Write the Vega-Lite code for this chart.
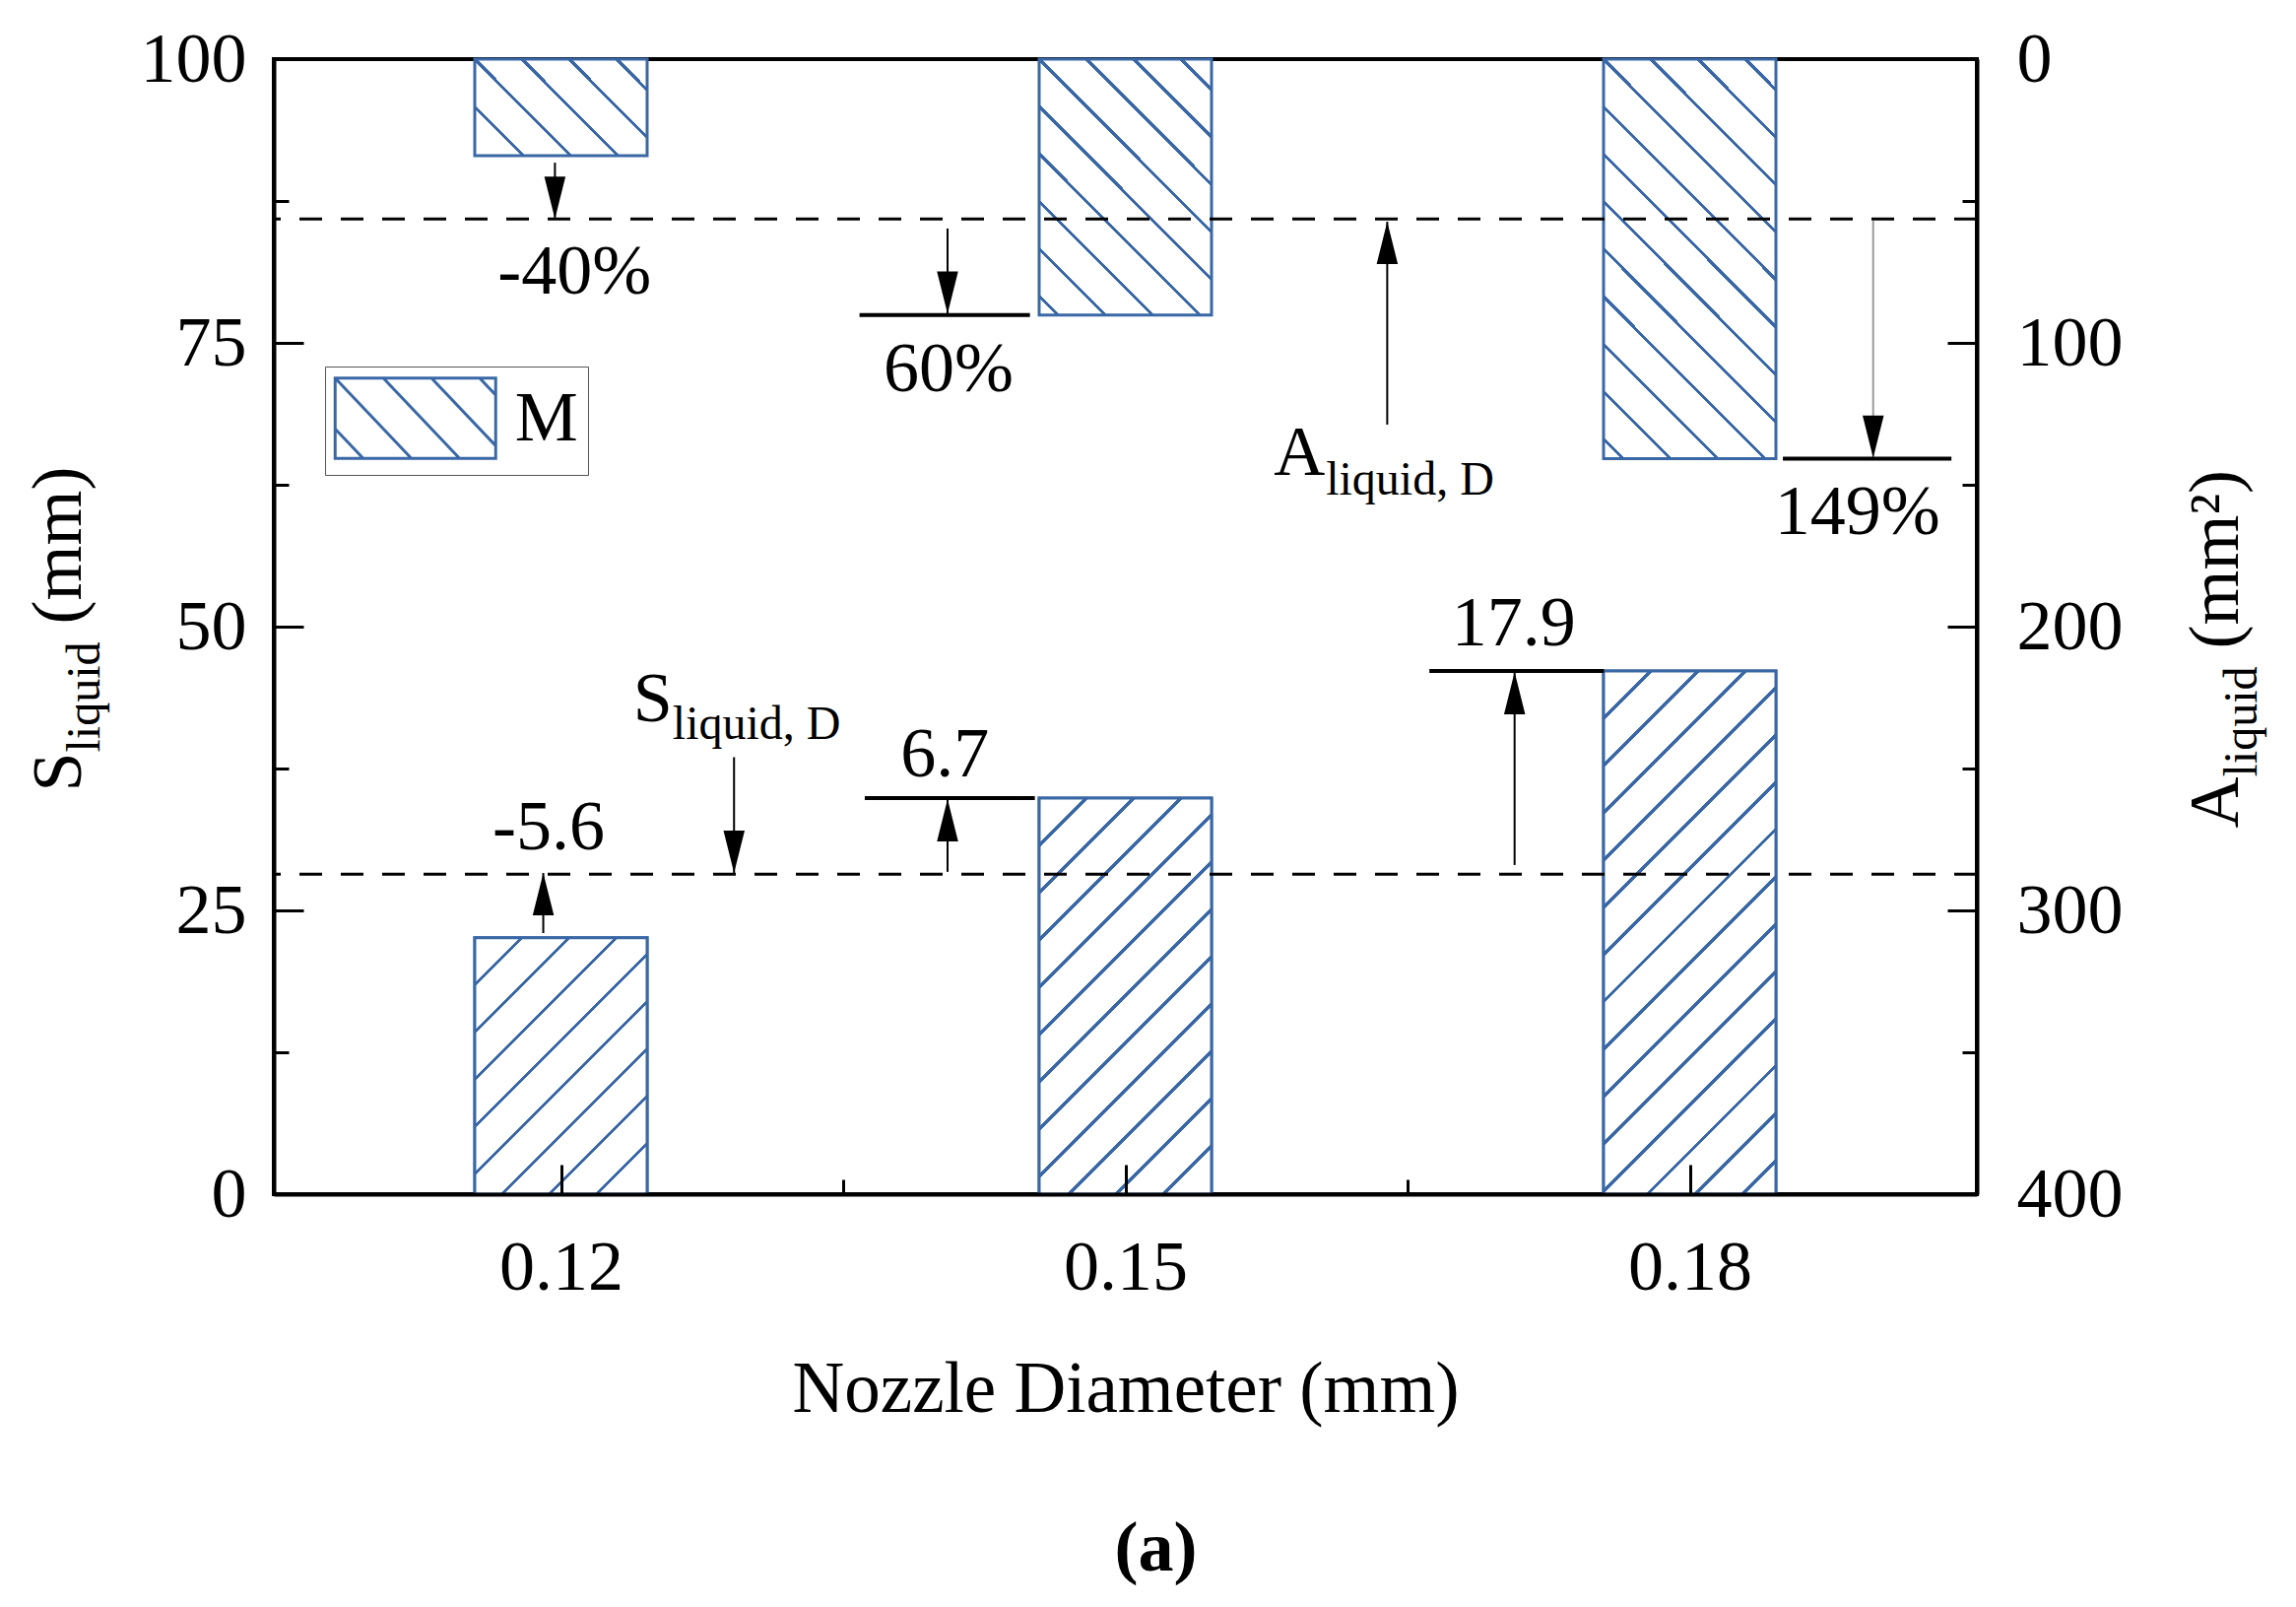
{
  "$schema": "https://vega.github.io/schema/vega-lite/v6.json",
  "width": 1729,
  "height": 1152,
  "autosize": {"type": "none"},
  "padding": {"left": 278, "top": 60, "right": 324, "bottom": 419},
  "background": "white",
  "title": {"text": "(a)", "orient": "bottom", "anchor": "middle", "fontSize": 72, "fontWeight": "bold", "font": "Liberation Serif", "color": "black", "offset": 90, "dx": 31},
  "config": {
    "font": "Liberation Serif",
    "view": {"stroke": "black", "strokeWidth": 4},
    "axis": {"grid": false, "labelFont": "Liberation Serif", "titleFont": "Liberation Serif", "labelFontSize": 72, "titleFontSize": 72, "titleFontWeight": "normal", "labelColor": "black", "titleColor": "black", "tickColor": "black", "domainColor": "black", "domainWidth": 4, "tickWidth": 3, "labelFlush": false, "labelOverlap": false, "labelBound": false},
    "text": {"font": "Liberation Serif", "fontSize": 72, "color": "black"}
  },
  "datasets": {
    "bars": [
      {"d": 0.12, "S": 22.6, "A": 34.0},
      {"d": 0.15, "S": 34.9, "A": 90.2},
      {"d": 0.18, "S": 46.1, "A": 140.8}
    ],
    "refs": [{"S_D": 28.2, "A_D": 56.3}],
    "arrowsS": [
      {"x": 0.11906, "from": 23.0, "to": 28.3, "dir": "up"},
      {"x": 0.1292, "from": 38.5, "to": 28.3, "dir": "down"},
      {"x": 0.14055, "from": 28.4, "to": 34.8, "dir": "up"},
      {"x": 0.17069, "from": 29.0, "to": 46.0, "dir": "up"}
    ],
    "arrowsA": [
      {"x": 0.11968, "from": 36.5, "to": 56.3, "dir": "down"},
      {"x": 0.14055, "from": 59.7, "to": 89.8, "dir": "down"},
      {"x": 0.16392, "from": 128.8, "to": 57.3, "dir": "up"},
      {"x": 0.18975, "from": 57.0, "to": 140.5, "dir": "down"}
    ],
    "levelsS": [
      {"x": 0.13615, "x2": 0.14519, "y": 34.9},
      {"x": 0.16616, "x2": 0.17544, "y": 46.1}
    ],
    "levelsA": [
      {"x": 0.13587, "x2": 0.14493, "y": 90.2},
      {"x": 0.18495, "x2": 0.19391, "y": 140.8}
    ],
    "labelsS": [
      {"x": 0.11934, "y": 32.3, "text": "-5.6"},
      {"x": 0.1404, "y": 38.7, "text": "6.7"},
      {"x": 0.17064, "y": 50.3, "text": "17.9"}
    ],
    "labelsA": [
      {"x": 0.12072, "y": 75.0, "text": "-40%"},
      {"x": 0.1406, "y": 109.4, "text": "60%"},
      {"x": 0.18891, "y": 159.7, "text": "149%"}
    ],
    "namesS": [{"x": 0.12384, "y": 41.67, "main": "S", "sub": "liquid, D"}],
    "namesA": [{"x": 0.15789, "y": 146.5, "main": "A", "sub": "liquid, D"}]
  },
  "layer": [
    {
      "layer": [
        {
          "data": {"name": "bars"},
          "mark": {"type": "bar", "orient": "vertical", "size": 175, "strokeWidth": 3, "fill": "white"},
          "encoding": {
            "x": {"field": "d", "type": "quantitative", "scale": {"domain": [0.105, 0.195], "nice": false, "zero": false}, "axis": null},
            "y": {"field": "S", "type": "quantitative", "scale": {"domain": [0, 100], "nice": false}, "axis": null},
            "stroke": {"datum": "M", "type": "nominal", "scale": {"range": ["#3a68a6"]},
              "legend": {"orient": "none", "legendX": 52, "legendY": 312, "title": null, "padding": 10, "strokeColor": "#555555", "fillColor": "white", "cornerRadius": 0,
                "symbolType": "M-2,-1H2V1H-2Z M-2,-1L-0.1,1 M-0.8,-1L1.1,1 M0.4,-1L2,0.684 M1.6,-1L2,-0.579 M-2,0.264L-1.3,1",
                "symbolSize": 6642, "symbolStrokeWidth": 3, "symbolOffset": 39.25, "symbolFillColor": "white", "symbolStrokeColor": "#3a68a6",
                "labelFontSize": 72, "labelFont": "Liberation Serif", "labelColor": "black", "labelOffset": 58.5}}
          }
        },
        {
          "data": {"name": "bars"},
          "mark": {"type": "bar", "orient": "vertical", "size": 175, "strokeWidth": 3, "stroke": "#3a68a6"},
          "encoding": {
            "x": {"field": "d", "type": "quantitative", "scale": {"domain": [0.105, 0.195], "nice": false, "zero": false},
              "axis": {"orient": "bottom", "zindex": 2, "values": [0.12, 0.15, 0.18], "format": ".2f", "tickSize": -30, "labelPadding": 69, "title": "Nozzle Diameter (mm)", "titleFontSize": 73, "titleBaseline": "alphabetic", "titleY": 220}},
            "y": {"field": "S", "type": "quantitative", "scale": {"domain": [0, 100], "nice": false},
              "axis": {"orient": "left", "zindex": 2, "values": [0, 25, 50, 75, 100], "format": "d", "tickSize": -30, "labelPadding": 58, "title": "S", "titleAngle": -90, "titleAlign": "left", "titleBaseline": "alphabetic", "titleX": -197, "titleY": 743}},
            "fill": {
              "condition": [
                {"test": "datum.d < 0.13", "value": {"gradient": "linear", "x1": 0, "y1": 0, "x2": 0.7741, "y2": 1.1518, "stops": [
                  {"offset": 0, "color": "#ffffff"},
                  {"offset": 0.1054, "color": "#ffffff"}, {"offset": 0.1054, "color": "#3a68a6"}, {"offset": 0.1151, "color": "#3a68a6"}, {"offset": 0.1151, "color": "#ffffff"},
                  {"offset": 0.2156, "color": "#ffffff"}, {"offset": 0.2156, "color": "#3a68a6"}, {"offset": 0.2254, "color": "#3a68a6"}, {"offset": 0.2254, "color": "#ffffff"},
                  {"offset": 0.3259, "color": "#ffffff"}, {"offset": 0.3259, "color": "#3a68a6"}, {"offset": 0.3356, "color": "#3a68a6"}, {"offset": 0.3356, "color": "#ffffff"},
                  {"offset": 0.4361, "color": "#ffffff"}, {"offset": 0.4361, "color": "#3a68a6"}, {"offset": 0.4458, "color": "#3a68a6"}, {"offset": 0.4458, "color": "#ffffff"},
                  {"offset": 0.5463, "color": "#ffffff"}, {"offset": 0.5463, "color": "#3a68a6"}, {"offset": 0.5561, "color": "#3a68a6"}, {"offset": 0.5561, "color": "#ffffff"},
                  {"offset": 0.6566, "color": "#ffffff"}, {"offset": 0.6566, "color": "#3a68a6"}, {"offset": 0.6663, "color": "#3a68a6"}, {"offset": 0.6663, "color": "#ffffff"},
                  {"offset": 0.7668, "color": "#ffffff"}, {"offset": 0.7668, "color": "#3a68a6"}, {"offset": 0.7766, "color": "#3a68a6"}, {"offset": 0.7766, "color": "#ffffff"},
                  {"offset": 0.8771, "color": "#ffffff"}, {"offset": 0.8771, "color": "#3a68a6"}, {"offset": 0.8868, "color": "#3a68a6"}, {"offset": 0.8868, "color": "#ffffff"},
                  {"offset": 1, "color": "#ffffff"}]}},
                {"test": "datum.d < 0.16", "value": {"gradient": "linear", "x1": 0, "y1": 0, "x2": 0.5253, "y2": 1.2067, "stops": [
                  {"offset": 0, "color": "#ffffff"},
                  {"offset": 0.0795, "color": "#ffffff"}, {"offset": 0.0795, "color": "#3a68a6"}, {"offset": 0.0869, "color": "#3a68a6"}, {"offset": 0.0869, "color": "#ffffff"},
                  {"offset": 0.1627, "color": "#ffffff"}, {"offset": 0.1627, "color": "#3a68a6"}, {"offset": 0.1701, "color": "#3a68a6"}, {"offset": 0.1701, "color": "#ffffff"},
                  {"offset": 0.2459, "color": "#ffffff"}, {"offset": 0.2459, "color": "#3a68a6"}, {"offset": 0.2532, "color": "#3a68a6"}, {"offset": 0.2532, "color": "#ffffff"},
                  {"offset": 0.3291, "color": "#ffffff"}, {"offset": 0.3291, "color": "#3a68a6"}, {"offset": 0.3364, "color": "#3a68a6"}, {"offset": 0.3364, "color": "#ffffff"},
                  {"offset": 0.4123, "color": "#ffffff"}, {"offset": 0.4123, "color": "#3a68a6"}, {"offset": 0.4196, "color": "#3a68a6"}, {"offset": 0.4196, "color": "#ffffff"},
                  {"offset": 0.4955, "color": "#ffffff"}, {"offset": 0.4955, "color": "#3a68a6"}, {"offset": 0.5028, "color": "#3a68a6"}, {"offset": 0.5028, "color": "#ffffff"},
                  {"offset": 0.5786, "color": "#ffffff"}, {"offset": 0.5786, "color": "#3a68a6"}, {"offset": 0.586, "color": "#3a68a6"}, {"offset": 0.586, "color": "#ffffff"},
                  {"offset": 0.6618, "color": "#ffffff"}, {"offset": 0.6618, "color": "#3a68a6"}, {"offset": 0.6692, "color": "#3a68a6"}, {"offset": 0.6692, "color": "#ffffff"},
                  {"offset": 0.745, "color": "#ffffff"}, {"offset": 0.745, "color": "#3a68a6"}, {"offset": 0.7524, "color": "#3a68a6"}, {"offset": 0.7524, "color": "#ffffff"},
                  {"offset": 0.8282, "color": "#ffffff"}, {"offset": 0.8282, "color": "#3a68a6"}, {"offset": 0.8356, "color": "#3a68a6"}, {"offset": 0.8356, "color": "#ffffff"},
                  {"offset": 0.9114, "color": "#ffffff"}, {"offset": 0.9114, "color": "#3a68a6"}, {"offset": 0.9187, "color": "#3a68a6"}, {"offset": 0.9187, "color": "#ffffff"},
                  {"offset": 1, "color": "#ffffff"}]}}
              ],
              "value": {"gradient": "linear", "x1": 0, "y1": 0, "x2": 0.3952, "y2": 1.1993, "stops": [
                {"offset": 0, "color": "#ffffff"},
                {"offset": 0.065, "color": "#ffffff"}, {"offset": 0.065, "color": "#3a68a6"}, {"offset": 0.071, "color": "#3a68a6"}, {"offset": 0.071, "color": "#ffffff"},
                {"offset": 0.133, "color": "#ffffff"}, {"offset": 0.133, "color": "#3a68a6"}, {"offset": 0.139, "color": "#3a68a6"}, {"offset": 0.139, "color": "#ffffff"},
                {"offset": 0.2009, "color": "#ffffff"}, {"offset": 0.2009, "color": "#3a68a6"}, {"offset": 0.2069, "color": "#3a68a6"}, {"offset": 0.2069, "color": "#ffffff"},
                {"offset": 0.2689, "color": "#ffffff"}, {"offset": 0.2689, "color": "#3a68a6"}, {"offset": 0.2749, "color": "#3a68a6"}, {"offset": 0.2749, "color": "#ffffff"},
                {"offset": 0.3369, "color": "#ffffff"}, {"offset": 0.3369, "color": "#3a68a6"}, {"offset": 0.3429, "color": "#3a68a6"}, {"offset": 0.3429, "color": "#ffffff"},
                {"offset": 0.4049, "color": "#ffffff"}, {"offset": 0.4049, "color": "#3a68a6"}, {"offset": 0.4109, "color": "#3a68a6"}, {"offset": 0.4109, "color": "#ffffff"},
                {"offset": 0.4728, "color": "#ffffff"}, {"offset": 0.4728, "color": "#3a68a6"}, {"offset": 0.4788, "color": "#3a68a6"}, {"offset": 0.4788, "color": "#ffffff"},
                {"offset": 0.5408, "color": "#ffffff"}, {"offset": 0.5408, "color": "#3a68a6"}, {"offset": 0.5468, "color": "#3a68a6"}, {"offset": 0.5468, "color": "#ffffff"},
                {"offset": 0.6088, "color": "#ffffff"}, {"offset": 0.6088, "color": "#3a68a6"}, {"offset": 0.6148, "color": "#3a68a6"}, {"offset": 0.6148, "color": "#ffffff"},
                {"offset": 0.6768, "color": "#ffffff"}, {"offset": 0.6768, "color": "#3a68a6"}, {"offset": 0.6828, "color": "#3a68a6"}, {"offset": 0.6828, "color": "#ffffff"},
                {"offset": 0.7448, "color": "#ffffff"}, {"offset": 0.7448, "color": "#3a68a6"}, {"offset": 0.7508, "color": "#3a68a6"}, {"offset": 0.7508, "color": "#ffffff"},
                {"offset": 0.8127, "color": "#ffffff"}, {"offset": 0.8127, "color": "#3a68a6"}, {"offset": 0.8187, "color": "#3a68a6"}, {"offset": 0.8187, "color": "#ffffff"},
                {"offset": 0.8807, "color": "#ffffff"}, {"offset": 0.8807, "color": "#3a68a6"}, {"offset": 0.8867, "color": "#3a68a6"}, {"offset": 0.8867, "color": "#ffffff"},
                {"offset": 0.9487, "color": "#ffffff"}, {"offset": 0.9487, "color": "#3a68a6"}, {"offset": 0.9547, "color": "#3a68a6"}, {"offset": 0.9547, "color": "#ffffff"},
                {"offset": 1, "color": "#ffffff"}]}
            }
          }
        },
        {
          "data": {"name": "refs"},
          "mark": {"type": "rule", "strokeDash": [23, 19], "strokeWidth": 3, "color": "black"},
          "encoding": {
            "y": {"field": "S_D", "type": "quantitative", "scale": {"domain": [0, 100], "nice": false},
              "axis": {"orient": "left", "zindex": 2, "values": [12.5, 37.5, 62.5, 87.5], "tickSize": -15, "labels": false, "domain": false, "title": "liquid", "titleFontSize": 48, "titleAngle": -90, "titleAlign": "left", "titleBaseline": "alphabetic", "titleX": -178, "titleY": 703}}
          }
        },
        {
          "data": {"name": "arrowsS"},
          "mark": {"type": "rule", "strokeWidth": 2, "color": "black"},
          "encoding": {
            "x": {"field": "x", "type": "quantitative", "scale": {"domain": [0.105, 0.195], "nice": false, "zero": false}, "axis": null},
            "y": {"field": "from", "type": "quantitative", "scale": {"domain": [0, 100], "nice": false},
              "axis": {"orient": "left", "ticks": false, "labels": false, "domain": false, "title": "(mm)", "titleAngle": -90, "titleAlign": "left", "titleBaseline": "alphabetic", "titleX": -197, "titleY": 573}},
            "y2": {"field": "to"}
          }
        },
        {
          "data": {"name": "arrowsS"},
          "mark": {"type": "point", "filled": true, "opacity": 1, "color": "black", "size": 1849, "strokeWidth": 0},
          "encoding": {
            "x": {"field": "x", "type": "quantitative", "scale": {"domain": [0.105, 0.195], "nice": false, "zero": false}, "axis": null},
            "y": {"field": "to", "type": "quantitative", "scale": {"domain": [0, 100], "nice": false}, "axis": null},
            "shape": {"field": "dir", "type": "nominal", "scale": {"domain": ["down", "up"], "range": ["M0,0L-0.5,-2L0.5,-2Z", "M0,0L-0.5,2L0.5,2Z"]}, "legend": null}
          }
        },
        {
          "data": {"name": "levelsS"},
          "mark": {"type": "rule", "strokeWidth": 4, "color": "black"},
          "encoding": {
            "x": {"field": "x", "type": "quantitative", "scale": {"domain": [0.105, 0.195], "nice": false, "zero": false}, "axis": null},
            "x2": {"field": "x2"},
            "y": {"field": "y", "type": "quantitative", "scale": {"domain": [0, 100], "nice": false}, "axis": null}
          }
        },
        {
          "data": {"name": "labelsS"},
          "mark": {"type": "text", "fontSize": 72, "align": "center", "baseline": "middle"},
          "encoding": {
            "x": {"field": "x", "type": "quantitative", "scale": {"domain": [0.105, 0.195], "nice": false, "zero": false}, "axis": null},
            "y": {"field": "y", "type": "quantitative", "scale": {"domain": [0, 100], "nice": false}, "axis": null},
            "text": {"field": "text"}
          }
        },
        {
          "data": {"name": "namesS"},
          "mark": {"type": "text", "fontSize": 72, "align": "left", "baseline": "alphabetic"},
          "encoding": {
            "x": {"field": "x", "type": "quantitative", "scale": {"domain": [0.105, 0.195], "nice": false, "zero": false}, "axis": null},
            "y": {"field": "y", "type": "quantitative", "scale": {"domain": [0, 100], "nice": false}, "axis": null},
            "text": {"field": "main"}
          }
        },
        {
          "data": {"name": "namesS"},
          "mark": {"type": "text", "fontSize": 48, "align": "left", "baseline": "alphabetic", "dx": 40, "dy": 18},
          "encoding": {
            "x": {"field": "x", "type": "quantitative", "scale": {"domain": [0.105, 0.195], "nice": false, "zero": false}, "axis": null},
            "y": {"field": "y", "type": "quantitative", "scale": {"domain": [0, 100], "nice": false}, "axis": null},
            "text": {"field": "sub"}
          }
        }
      ],
      "resolve": {"axis": {"x": "independent", "y": "independent"}}
    },
    {
      "layer": [
        {
          "data": {"name": "bars"},
          "mark": {"type": "bar", "orient": "vertical", "size": 175, "strokeWidth": 3, "stroke": "#3a68a6"},
          "encoding": {
            "x": {"field": "d", "type": "quantitative", "scale": {"domain": [0.105, 0.195], "nice": false, "zero": false},
              "axis": {"orient": "bottom", "zindex": 2, "values": [0.135, 0.165], "tickSize": -15, "labels": false, "domain": false, "title": null}},
            "y": {"field": "A", "type": "quantitative", "scale": {"domain": [0, 400], "nice": false, "reverse": true},
              "axis": {"orient": "right", "zindex": 2, "values": [0, 100, 200, 300, 400], "format": "d", "tickSize": -30, "labelPadding": 70, "title": "A", "titleAngle": -90, "titleAlign": "left", "titleBaseline": "alphabetic", "titleX": 264, "titleY": 780}},
            "fill": {
              "condition": [
                {"test": "datum.d < 0.13", "value": {"gradient": "linear", "x1": 0, "y1": 1, "x2": 1.1885, "y2": 0.3389, "stops": [
                  {"offset": 0, "color": "#ffffff"},
                  {"offset": 0.1734, "color": "#ffffff"}, {"offset": 0.1734, "color": "#3a68a6"}, {"offset": 0.189, "color": "#3a68a6"}, {"offset": 0.189, "color": "#ffffff"},
                  {"offset": 0.3496, "color": "#ffffff"}, {"offset": 0.3496, "color": "#3a68a6"}, {"offset": 0.3652, "color": "#3a68a6"}, {"offset": 0.3652, "color": "#ffffff"},
                  {"offset": 0.5259, "color": "#ffffff"}, {"offset": 0.5259, "color": "#3a68a6"}, {"offset": 0.5415, "color": "#3a68a6"}, {"offset": 0.5415, "color": "#ffffff"},
                  {"offset": 0.7021, "color": "#ffffff"}, {"offset": 0.7021, "color": "#3a68a6"}, {"offset": 0.7177, "color": "#3a68a6"}, {"offset": 0.7177, "color": "#ffffff"},
                  {"offset": 0.8784, "color": "#ffffff"}, {"offset": 0.8784, "color": "#3a68a6"}, {"offset": 0.894, "color": "#3a68a6"}, {"offset": 0.894, "color": "#ffffff"},
                  {"offset": 1, "color": "#ffffff"}]}},
                {"test": "datum.d < 0.16", "value": {"gradient": "linear", "x1": 0, "y1": 1, "x2": 0.7762, "y2": -0.1509, "stops": [
                  {"offset": 0, "color": "#ffffff"},
                  {"offset": 0.04, "color": "#ffffff"}, {"offset": 0.04, "color": "#3a68a6"}, {"offset": 0.0498, "color": "#3a68a6"}, {"offset": 0.0498, "color": "#ffffff"},
                  {"offset": 0.1505, "color": "#ffffff"}, {"offset": 0.1505, "color": "#3a68a6"}, {"offset": 0.1602, "color": "#3a68a6"}, {"offset": 0.1602, "color": "#ffffff"},
                  {"offset": 0.2609, "color": "#ffffff"}, {"offset": 0.2609, "color": "#3a68a6"}, {"offset": 0.2707, "color": "#3a68a6"}, {"offset": 0.2707, "color": "#ffffff"},
                  {"offset": 0.3714, "color": "#ffffff"}, {"offset": 0.3714, "color": "#3a68a6"}, {"offset": 0.3812, "color": "#3a68a6"}, {"offset": 0.3812, "color": "#ffffff"},
                  {"offset": 0.4819, "color": "#ffffff"}, {"offset": 0.4819, "color": "#3a68a6"}, {"offset": 0.4917, "color": "#3a68a6"}, {"offset": 0.4917, "color": "#ffffff"},
                  {"offset": 0.5924, "color": "#ffffff"}, {"offset": 0.5924, "color": "#3a68a6"}, {"offset": 0.6021, "color": "#3a68a6"}, {"offset": 0.6021, "color": "#ffffff"},
                  {"offset": 0.7028, "color": "#ffffff"}, {"offset": 0.7028, "color": "#3a68a6"}, {"offset": 0.7126, "color": "#3a68a6"}, {"offset": 0.7126, "color": "#ffffff"},
                  {"offset": 0.8133, "color": "#ffffff"}, {"offset": 0.8133, "color": "#3a68a6"}, {"offset": 0.8231, "color": "#3a68a6"}, {"offset": 0.8231, "color": "#ffffff"},
                  {"offset": 0.9238, "color": "#ffffff"}, {"offset": 0.9238, "color": "#3a68a6"}, {"offset": 0.9335, "color": "#3a68a6"}, {"offset": 0.9335, "color": "#ffffff"},
                  {"offset": 1, "color": "#ffffff"}]}}
              ],
              "value": {"gradient": "linear", "x1": 0, "y1": 1, "x2": 0.523, "y2": -0.2067, "stops": [
                {"offset": 0, "color": "#ffffff"},
                {"offset": 0.0306, "color": "#ffffff"}, {"offset": 0.0306, "color": "#3a68a6"}, {"offset": 0.0379, "color": "#3a68a6"}, {"offset": 0.0379, "color": "#ffffff"},
                {"offset": 0.1135, "color": "#ffffff"}, {"offset": 0.1135, "color": "#3a68a6"}, {"offset": 0.1208, "color": "#3a68a6"}, {"offset": 0.1208, "color": "#ffffff"},
                {"offset": 0.1964, "color": "#ffffff"}, {"offset": 0.1964, "color": "#3a68a6"}, {"offset": 0.2038, "color": "#3a68a6"}, {"offset": 0.2038, "color": "#ffffff"},
                {"offset": 0.2794, "color": "#ffffff"}, {"offset": 0.2794, "color": "#3a68a6"}, {"offset": 0.2867, "color": "#3a68a6"}, {"offset": 0.2867, "color": "#ffffff"},
                {"offset": 0.3623, "color": "#ffffff"}, {"offset": 0.3623, "color": "#3a68a6"}, {"offset": 0.3696, "color": "#3a68a6"}, {"offset": 0.3696, "color": "#ffffff"},
                {"offset": 0.4452, "color": "#ffffff"}, {"offset": 0.4452, "color": "#3a68a6"}, {"offset": 0.4525, "color": "#3a68a6"}, {"offset": 0.4525, "color": "#ffffff"},
                {"offset": 0.5281, "color": "#ffffff"}, {"offset": 0.5281, "color": "#3a68a6"}, {"offset": 0.5355, "color": "#3a68a6"}, {"offset": 0.5355, "color": "#ffffff"},
                {"offset": 0.6111, "color": "#ffffff"}, {"offset": 0.6111, "color": "#3a68a6"}, {"offset": 0.6184, "color": "#3a68a6"}, {"offset": 0.6184, "color": "#ffffff"},
                {"offset": 0.694, "color": "#ffffff"}, {"offset": 0.694, "color": "#3a68a6"}, {"offset": 0.7013, "color": "#3a68a6"}, {"offset": 0.7013, "color": "#ffffff"},
                {"offset": 0.7769, "color": "#ffffff"}, {"offset": 0.7769, "color": "#3a68a6"}, {"offset": 0.7843, "color": "#3a68a6"}, {"offset": 0.7843, "color": "#ffffff"},
                {"offset": 0.8598, "color": "#ffffff"}, {"offset": 0.8598, "color": "#3a68a6"}, {"offset": 0.8672, "color": "#3a68a6"}, {"offset": 0.8672, "color": "#ffffff"},
                {"offset": 0.9428, "color": "#ffffff"}, {"offset": 0.9428, "color": "#3a68a6"}, {"offset": 0.9501, "color": "#3a68a6"}, {"offset": 0.9501, "color": "#ffffff"},
                {"offset": 1, "color": "#ffffff"}]}
            }
          }
        },
        {
          "data": {"name": "refs"},
          "mark": {"type": "rule", "strokeDash": [23, 19], "strokeWidth": 3, "color": "black"},
          "encoding": {
            "y": {"field": "A_D", "type": "quantitative", "scale": {"domain": [0, 400], "nice": false, "reverse": true},
              "axis": {"orient": "right", "zindex": 2, "values": [50, 150, 250, 350], "tickSize": -15, "labels": false, "domain": false, "title": "liquid", "titleFontSize": 48, "titleAngle": -90, "titleAlign": "left", "titleBaseline": "alphabetic", "titleX": 283, "titleY": 728}}
          }
        },
        {
          "data": {"name": "arrowsA"},
          "mark": {"type": "rule", "strokeWidth": 2},
          "encoding": {
            "x": {"field": "x", "type": "quantitative", "scale": {"domain": [0.105, 0.195], "nice": false, "zero": false}, "axis": null},
            "y": {"field": "from", "type": "quantitative", "scale": {"domain": [0, 400], "nice": false, "reverse": true},
              "axis": {"orient": "right", "ticks": false, "labels": false, "domain": false, "title": "(mm²)", "titleAngle": -90, "titleAlign": "left", "titleBaseline": "alphabetic", "titleX": 264, "titleY": 598}},
            "y2": {"field": "to"},
            "color": {"condition": {"test": "datum.x > 0.185", "value": "#9a9a9a"}, "value": "black"}
          }
        },
        {
          "data": {"name": "arrowsA"},
          "mark": {"type": "point", "filled": true, "opacity": 1, "color": "black", "size": 1849, "strokeWidth": 0},
          "encoding": {
            "x": {"field": "x", "type": "quantitative", "scale": {"domain": [0.105, 0.195], "nice": false, "zero": false}, "axis": null},
            "y": {"field": "to", "type": "quantitative", "scale": {"domain": [0, 400], "nice": false, "reverse": true}, "axis": null},
            "shape": {"field": "dir", "type": "nominal", "scale": {"domain": ["down", "up"], "range": ["M0,0L-0.5,-2L0.5,-2Z", "M0,0L-0.5,2L0.5,2Z"]}, "legend": null}
          }
        },
        {
          "data": {"name": "levelsA"},
          "mark": {"type": "rule", "strokeWidth": 4, "color": "black"},
          "encoding": {
            "x": {"field": "x", "type": "quantitative", "scale": {"domain": [0.105, 0.195], "nice": false, "zero": false}, "axis": null},
            "x2": {"field": "x2"},
            "y": {"field": "y", "type": "quantitative", "scale": {"domain": [0, 400], "nice": false, "reverse": true}, "axis": null}
          }
        },
        {
          "data": {"name": "labelsA"},
          "mark": {"type": "text", "fontSize": 72, "align": "center", "baseline": "middle"},
          "encoding": {
            "x": {"field": "x", "type": "quantitative", "scale": {"domain": [0.105, 0.195], "nice": false, "zero": false}, "axis": null},
            "y": {"field": "y", "type": "quantitative", "scale": {"domain": [0, 400], "nice": false, "reverse": true}, "axis": null},
            "text": {"field": "text"}
          }
        },
        {
          "data": {"name": "namesA"},
          "mark": {"type": "text", "fontSize": 72, "align": "left", "baseline": "alphabetic"},
          "encoding": {
            "x": {"field": "x", "type": "quantitative", "scale": {"domain": [0.105, 0.195], "nice": false, "zero": false}, "axis": null},
            "y": {"field": "y", "type": "quantitative", "scale": {"domain": [0, 400], "nice": false, "reverse": true}, "axis": null},
            "text": {"field": "main"}
          }
        },
        {
          "data": {"name": "namesA"},
          "mark": {"type": "text", "fontSize": 48, "align": "left", "baseline": "alphabetic", "dx": 53, "dy": 20},
          "encoding": {
            "x": {"field": "x", "type": "quantitative", "scale": {"domain": [0.105, 0.195], "nice": false, "zero": false}, "axis": null},
            "y": {"field": "y", "type": "quantitative", "scale": {"domain": [0, 400], "nice": false, "reverse": true}, "axis": null},
            "text": {"field": "sub"}
          }
        }
      ],
      "resolve": {"axis": {"x": "independent", "y": "independent"}}
    }
  ],
  "resolve": {"scale": {"y": "independent"}, "axis": {"x": "independent", "y": "independent"}}
}
